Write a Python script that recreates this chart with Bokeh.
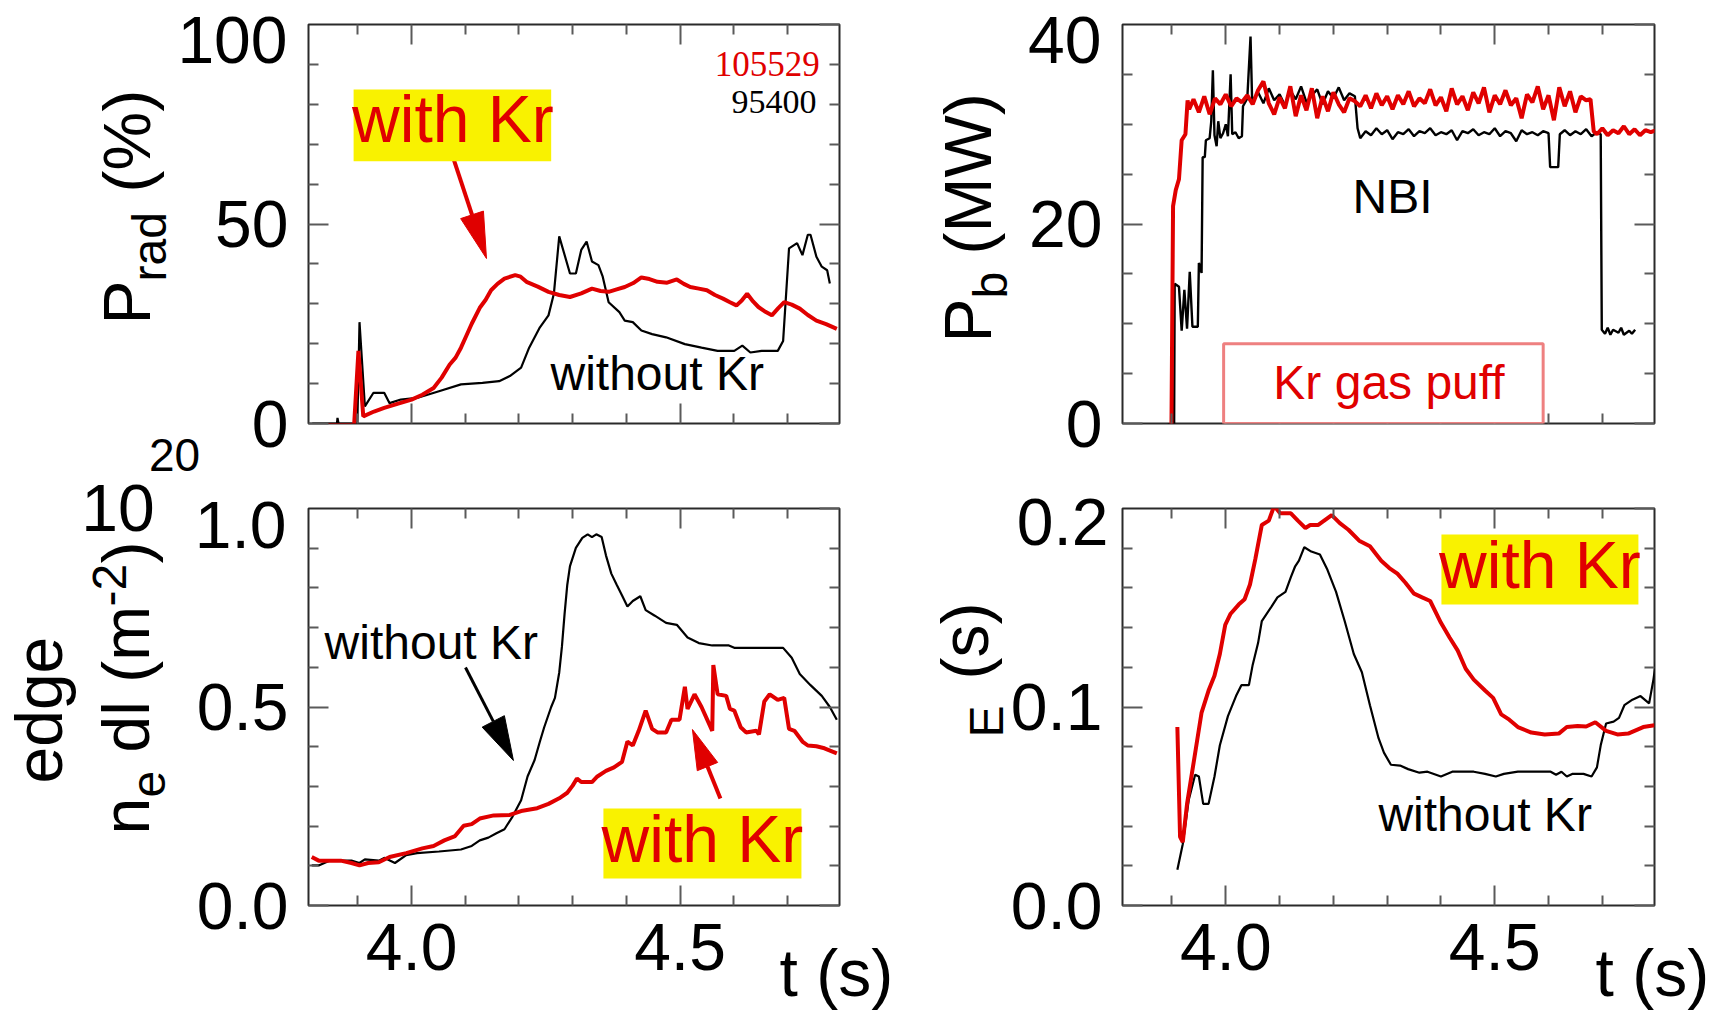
from math import hypot
from bokeh.plotting import figure
from bokeh.layouts import column
from bokeh.models import Range1d, FixedTicker, LinearAxis, Label, BoxAnnotation, GridBox
from bokeh.embed import file_html
from bokeh.resources import INLINE

# ---------------- data ----------------
T_RANGE = (3.808, 4.797)
X_MAJOR = [4.0, 4.5]
X_MINOR = [3.9, 4.1, 4.2, 4.3, 4.4, 4.6, 4.7]
X_LABELS = ["4.0", "4.5"]

PRAD_RANGE = (0, 100)
PRAD_MAJOR = [0, 50, 100]
PRAD_MINOR = [10, 20, 30, 40, 60, 70, 80, 90]
PRAD_LABELS = ["0", "50", "100"]

PB_RANGE = (0, 40)
PB_MAJOR = [0, 20, 40]
PB_MINOR = [5, 10, 15, 25, 30, 35]
PB_LABELS = ["0", "20", "40"]

NE_RANGE = (0, 1.0)
NE_MAJOR = [0.0, 0.5, 1.0]
NE_MINOR = [0.1, 0.2, 0.3, 0.4, 0.6, 0.7, 0.8, 0.9]
NE_LABELS = ["0.0", "0.5", "1.0"]

TAU_RANGE = (0, 0.2)
TAU_MAJOR = [0.0, 0.1, 0.2]
TAU_MINOR = [0.02, 0.04, 0.06, 0.08, 0.12, 0.14, 0.16, 0.18]
TAU_LABELS = ["0.0", "0.1", "0.2"]

# P_rad (%) -- shot 105529 (with Kr, red)
PRAD_KR_T = [3.815, 3.893, 3.901, 3.910, 3.930, 3.949, 3.975, 4.000, 4.020, 4.041, 4.056, 4.071,
             4.082, 4.092, 4.102, 4.112, 4.127, 4.138, 4.148, 4.160, 4.173, 4.193, 4.203, 4.214,
             4.235, 4.255, 4.275, 4.295, 4.316, 4.336, 4.352, 4.367, 4.382, 4.397, 4.413, 4.428,
             4.443, 4.458, 4.476, 4.494, 4.507, 4.519, 4.535, 4.550, 4.565, 4.580, 4.593, 4.605,
             4.615, 4.625, 4.636, 4.646, 4.659, 4.671, 4.683, 4.694, 4.708, 4.723, 4.738, 4.754,
             4.772, 4.792]
PRAD_KR_V = [-0.4, -0.4, 18.2, 1.8, 3.0, 3.9, 5.0, 6.0, 7.2, 8.9, 11.5, 14.8,
             16.5, 19.0, 22.0, 25.0, 29.0, 31.0, 33.4, 35.0, 36.3, 37.2, 36.8, 35.5,
             34.3, 33.0, 32.2, 31.7, 32.6, 33.8, 33.2, 33.0, 33.6, 34.2, 35.2, 36.6,
             36.2, 35.5, 35.3, 36.1, 35.0, 34.2, 33.8, 33.4, 32.2, 31.3, 30.4, 29.6,
             30.8, 32.5, 30.6, 29.2, 28.0, 27.1, 28.9, 30.4, 29.8, 28.8, 27.2, 25.8,
             24.9, 23.7]
# P_rad (%) -- shot 95400 (without Kr, black)
PRAD_NO_T = [3.815, 3.861, 3.862, 3.864, 3.899, 3.903, 3.913, 3.929, 3.949, 3.959, 3.980, 4.010,
             4.051, 4.092, 4.132, 4.163, 4.183, 4.204, 4.219, 4.239, 4.255, 4.265, 4.275, 4.295,
             4.306, 4.316, 4.326, 4.336, 4.348, 4.356, 4.367, 4.387, 4.397, 4.412, 4.428, 4.448,
             4.474, 4.509, 4.540, 4.570, 4.601, 4.616, 4.631, 4.652, 4.682, 4.692, 4.703, 4.718,
             4.728, 4.738, 4.743, 4.754, 4.764, 4.774, 4.779]
PRAD_NO_V = [0.0, 0.0, 1.4, 0.0, 0.0, 25.4, 4.3, 7.7, 7.7, 5.1, 6.0, 6.4,
             8.1, 9.8, 10.2, 10.6, 11.9, 14.0, 19.0, 24.1, 27.1, 32.5, 46.9, 37.6,
             37.6, 43.5, 45.6, 40.6, 39.7, 36.8, 30.4, 27.9, 25.8, 25.4, 23.3, 22.4,
             21.6, 19.9, 19.0, 18.2, 18.2, 19.5, 17.8, 18.2, 18.2, 20.7, 43.9, 45.2,
             42.2, 47.3, 47.3, 41.8, 39.3, 38.4, 35.1]

# P_b (MW) -- with Kr (red)
PB_KR_T = [3.887, 3.899, 3.902, 3.907, 3.913, 3.918, 3.925, 3.929, 3.932,
           3.94, 3.95, 3.96, 3.97, 3.98, 3.99, 4.00, 4.01, 4.02, 4.03, 4.04, 4.05, 4.06, 4.07,
           4.08, 4.09, 4.10, 4.11, 4.12, 4.13, 4.14, 4.15, 4.16, 4.17, 4.18, 4.19, 4.20, 4.21,
           4.22, 4.23, 4.24, 4.25, 4.26, 4.27, 4.28, 4.29, 4.30, 4.31, 4.32, 4.33, 4.34, 4.35,
           4.36, 4.37, 4.38, 4.39, 4.40, 4.41, 4.42, 4.43, 4.44, 4.45, 4.46, 4.47, 4.48, 4.49,
           4.50, 4.51, 4.52, 4.53, 4.54, 4.55, 4.56, 4.57, 4.58, 4.59, 4.60, 4.61, 4.62, 4.63,
           4.64, 4.65, 4.66, 4.67, 4.678, 4.684,
           4.69, 4.70, 4.71, 4.72, 4.73, 4.74, 4.75, 4.76, 4.77, 4.78, 4.79, 4.80]
PB_KR_V = [-0.3, -0.3, 21.8, 23.4, 24.5, 28.4, 29.0, 32.4, 31.5,
           32.5, 31.2, 32.8, 31.0, 32.6, 32.0, 33.0, 31.8, 32.6, 32.2, 32.9, 32.0, 33.4, 34.3,
           32.1, 31.0, 32.7, 31.6, 33.8, 30.8, 32.9, 31.4, 33.6, 30.6, 32.8, 31.3, 33.2, 32.0,
           31.2, 32.6, 32.3, 31.8, 32.9, 31.6, 33.1, 31.9, 32.8, 31.5, 32.9, 32.0, 33.3, 31.8,
           32.6, 32.1, 33.5, 31.9, 32.7, 31.3, 33.6, 32.0, 32.8, 31.4, 33.2, 32.1, 33.7, 31.2,
           32.9, 32.0, 33.4, 31.9, 32.6, 30.6, 33.0, 32.2, 33.8, 31.5, 32.9, 30.4, 33.7, 31.8,
           33.3, 31.2, 32.8, 32.4, 32.5, 29.3,
           29.0, 29.6, 28.9, 29.4, 29.1, 29.8, 29.0, 29.5, 28.9, 29.4, 29.2, 29.4]
# P_b (MW) -- without Kr (black)
PB_NO_T = [3.892, 3.904, 3.905, 3.913, 3.918, 3.923, 3.928, 3.933, 3.938, 3.948, 3.950, 3.955,
           3.957, 3.961, 3.963, 3.970, 3.973, 3.976, 3.979, 3.983, 3.986, 3.990, 3.995, 4.000,
           4.004, 4.009, 4.012, 4.018, 4.024, 4.030, 4.032, 4.040, 4.046, 4.049, 4.055,
           4.06, 4.07, 4.08, 4.09, 4.10, 4.11, 4.12, 4.13, 4.14, 4.15, 4.16, 4.17, 4.18, 4.19,
           4.20, 4.21, 4.22, 4.23, 4.24, 4.245,
           4.25, 4.26, 4.27, 4.28, 4.29, 4.30, 4.31, 4.32, 4.33, 4.34, 4.35, 4.36, 4.37, 4.38,
           4.39, 4.40, 4.41, 4.42, 4.43, 4.44, 4.45, 4.46, 4.47, 4.48, 4.49, 4.50, 4.51, 4.52,
           4.53, 4.54, 4.55, 4.56, 4.57, 4.58, 4.59, 4.60, 4.603, 4.618, 4.621,
           4.63, 4.64, 4.65, 4.66, 4.67, 4.68, 4.69, 4.697, 4.699, 4.705, 4.71, 4.715, 4.72,
           4.73, 4.735, 4.74, 4.75, 4.755, 4.761]
PB_NO_V = [-0.1, -0.1, 14.0, 13.7, 9.3, 13.4, 9.5, 15.2, 9.7, 9.7, 16.1, 15.1,
           26.7, 26.7, 28.4, 28.6, 30.3, 35.4, 28.9, 27.8, 30.3, 28.6, 29.1, 30.0,
           28.8, 35.0, 29.0, 29.2, 28.6, 28.8, 31.8, 32.6, 38.8, 32.3, 32.8,
           33.2, 32.1, 33.6, 32.4, 33.0, 31.9, 33.4, 32.5, 33.8, 32.2, 32.9, 33.5, 32.0, 33.3,
           32.6, 33.7, 32.4, 33.1, 32.8, 29.6,
           28.6, 29.3, 28.9, 29.6, 29.0, 29.4, 28.5, 29.2, 29.0, 29.5, 28.8, 29.3, 29.1, 29.6,
           28.9, 29.2, 29.0, 29.4, 28.4, 29.3, 29.1, 29.5, 28.9, 29.2, 29.0, 29.6, 28.8, 29.3,
           29.1, 28.3, 29.4, 29.0, 29.2, 28.9, 29.3, 29.1, 25.7, 25.7, 29.0,
           29.4, 28.9, 29.3, 29.0, 29.5, 28.8, 29.2, 29.0, 9.4, 9.0, 9.6, 8.9, 9.4,
           9.1, 9.6, 8.9, 9.3, 9.0, 9.4]

# edge n_e dl (1e20 m^-2) -- without Kr (black)
NE_NO_T = [3.814, 3.827, 3.847, 3.888, 3.903, 3.913, 3.939, 3.949, 3.969, 3.990, 4.010, 4.051,
           4.092, 4.112, 4.127, 4.143, 4.158, 4.173, 4.188, 4.204, 4.216, 4.229, 4.239, 4.247,
           4.260, 4.267, 4.275, 4.280, 4.285, 4.290, 4.295, 4.306, 4.318, 4.328, 4.336, 4.344,
           4.354, 4.362, 4.372, 4.382, 4.392, 4.402, 4.412, 4.426, 4.436, 4.453, 4.474, 4.494,
           4.514, 4.535, 4.560, 4.591, 4.601, 4.692, 4.708, 4.723, 4.743, 4.764, 4.779, 4.792]
NE_NO_V = [0.101, 0.101, 0.113, 0.113, 0.107, 0.116, 0.113, 0.120, 0.107, 0.127, 0.132, 0.136,
           0.141, 0.150, 0.164, 0.171, 0.182, 0.192, 0.224, 0.265, 0.325, 0.366, 0.413, 0.449,
           0.500, 0.523, 0.587, 0.652, 0.735, 0.808, 0.855, 0.901, 0.926, 0.935, 0.928, 0.935,
           0.928, 0.882, 0.836, 0.808, 0.781, 0.753, 0.767, 0.779, 0.744, 0.730, 0.712, 0.707,
           0.675, 0.661, 0.655, 0.655, 0.649, 0.649, 0.624, 0.583, 0.555, 0.528, 0.500, 0.468]
# edge n_e dl -- with Kr (red)
NE_KR_T = [3.814, 3.827, 3.868, 3.888, 3.903, 3.919, 3.939, 3.959, 3.990, 4.020, 4.041, 4.061,
           4.081, 4.097, 4.112, 4.127, 4.153, 4.183, 4.204, 4.234, 4.255, 4.275, 4.290, 4.300,
           4.308, 4.316, 4.336, 4.346, 4.362, 4.377, 4.392, 4.402, 4.412, 4.423, 4.436, 4.448,
           4.458, 4.474, 4.484, 4.499, 4.509, 4.514, 4.527, 4.540, 4.560, 4.562, 4.570, 4.586,
           4.593, 4.601, 4.613, 4.623, 4.642, 4.647, 4.657, 4.667, 4.682, 4.694, 4.703, 4.713,
           4.728, 4.738, 4.754, 4.769, 4.792]
NE_KR_V = [0.122, 0.113, 0.113, 0.107, 0.101, 0.107, 0.109, 0.122, 0.132, 0.144, 0.150, 0.164,
           0.175, 0.201, 0.205, 0.219, 0.227, 0.228, 0.238, 0.245, 0.256, 0.270, 0.284, 0.302,
           0.320, 0.311, 0.311, 0.325, 0.339, 0.348, 0.362, 0.413, 0.403, 0.440, 0.491, 0.445,
           0.436, 0.436, 0.468, 0.468, 0.551, 0.495, 0.532, 0.500, 0.440, 0.606, 0.532, 0.528,
           0.495, 0.491, 0.449, 0.436, 0.440, 0.431, 0.514, 0.532, 0.518, 0.523, 0.445, 0.440,
           0.413, 0.403, 0.401, 0.396, 0.383]

# tau_E (s) -- with Kr (red)
TAU_KR_T = [3.910, 3.915, 3.920, 3.928, 3.941, 3.955, 3.968, 3.979, 3.989, 3.999, 4.009, 4.024,
            4.035, 4.045, 4.055, 4.067, 4.080, 4.090, 4.101, 4.121, 4.134, 4.148, 4.157, 4.172,
            4.197, 4.212, 4.228, 4.248, 4.268, 4.289, 4.304, 4.319, 4.334, 4.350, 4.365, 4.380,
            4.400, 4.416, 4.431, 4.446, 4.461, 4.482, 4.497, 4.512, 4.527, 4.543, 4.568, 4.593,
            4.619, 4.634, 4.654, 4.670, 4.687, 4.707, 4.728, 4.748, 4.776, 4.797]
TAU_KR_V = [0.0899, 0.0346, 0.0319, 0.0512, 0.0733, 0.0972, 0.1083, 0.1157, 0.1267, 0.1414,
            0.1470, 0.1516, 0.1543, 0.1617, 0.1746, 0.1917, 0.1939, 0.2013, 0.1976, 0.1976,
            0.1939, 0.1902, 0.1917, 0.1917, 0.1967, 0.1926, 0.1893, 0.1838, 0.1810, 0.1737,
            0.1700, 0.1672, 0.1626, 0.1571, 0.1552, 0.1534, 0.1424, 0.1350, 0.1285, 0.1193,
            0.1138, 0.1083, 0.1046, 0.0963, 0.0936, 0.0899, 0.0871, 0.0862, 0.0866, 0.0899,
            0.0904, 0.0902, 0.0923, 0.0880, 0.0862, 0.0866, 0.0899, 0.0908]
# tau_E (s) -- without Kr (black)
TAU_NO_T = [3.910, 3.920, 3.931, 3.943, 3.950, 3.958, 3.968, 3.979, 3.989, 4.004, 4.019, 4.029,
            4.043, 4.050, 4.060, 4.067, 4.085, 4.096, 4.111, 4.121, 4.129, 4.136, 4.146, 4.159,
            4.175, 4.189, 4.205, 4.221, 4.238, 4.253, 4.268, 4.284, 4.294, 4.307, 4.324, 4.339,
            4.360, 4.375, 4.400, 4.421, 4.461, 4.482, 4.502, 4.517, 4.543, 4.588, 4.604, 4.614,
            4.624, 4.634, 4.644, 4.665, 4.680, 4.690, 4.697, 4.707, 4.721, 4.731, 4.741, 4.756,
            4.771, 4.787, 4.795, 4.802]
TAU_NO_V = [0.0180, 0.0309, 0.0530, 0.0659, 0.0650, 0.0512, 0.0512, 0.0650, 0.0807, 0.0954,
            0.1055, 0.1110, 0.1110, 0.1212, 0.1322, 0.1433, 0.1506, 0.1552, 0.1580, 0.1654,
            0.1709, 0.1737, 0.1805, 0.1783, 0.1768, 0.1691, 0.1580, 0.1433, 0.1267, 0.1175,
            0.1009, 0.0843, 0.0770, 0.0709, 0.0705, 0.0687, 0.0669, 0.0674, 0.0650, 0.0674,
            0.0674, 0.0663, 0.0650, 0.0663, 0.0674, 0.0674, 0.0674, 0.0659, 0.0674, 0.0650,
            0.0663, 0.0663, 0.0650, 0.0696, 0.0807, 0.0917, 0.0926, 0.0945, 0.1009, 0.1037,
            0.1055, 0.1018, 0.1138, 0.1267]

# ---------------- style ----------------
SANS = "Liberation Sans"
SERIF = "Liberation Serif"
RED = "#e00000"
BLACK = "#000000"
YELLOW = "#f9f200"
TICK = "#5a5a5a"
BIG = 66
MID = 48
SUB = 48
BASE_SHIFT = 0.345   # empirical: Bokeh draws "alphabetic" text this fraction of an em low

PAGE_W, PAGE_H = 1713, 1010
LEFT_W, RIGHT_W = 856, 857
TOP_H, BOT_H = 472, 538


class Geo:
    def __init__(self, fl, ft, fw, fh, yr):
        self.fl, self.ft, self.fw, self.fh, self.yr = fl, ft, fw, fh, yr
        self.fb = ft + fh
        self.sx = fw / (T_RANGE[1] - T_RANGE[0])
        self.sy = fh / (yr[1] - yr[0])


def style_axis(ax, major, minor, labels, standoff):
    ax.ticker = FixedTicker(ticks=major, minor_ticks=minor)
    ax.axis_line_color = None
    ax.major_tick_in = 20
    ax.major_tick_out = 0
    ax.minor_tick_in = 10
    ax.minor_tick_out = 0
    ax.major_tick_line_color = TICK
    ax.major_tick_line_width = 2
    ax.minor_tick_line_color = TICK
    ax.minor_tick_line_width = 2
    ax.axis_label_standoff = 0
    if labels:
        ax.major_label_overrides = dict(zip(major, labels))
        ax.major_label_text_font = SANS
        ax.major_label_text_font_size = f"{BIG}px"
        ax.major_label_text_color = "black"
        ax.major_label_standoff = standoff
    else:
        ax.major_label_text_font_size = "0px"
        ax.major_label_text_color = None
        ax.major_label_standoff = 0


def make_panel(w, h, x0, y0, g, y_major, y_minor, y_labels, x_labels):
    bl = g.fl - x0
    bt = g.ft - y0
    p = figure(width=w, height=h, x_range=Range1d(*T_RANGE), y_range=Range1d(*g.yr),
               x_axis_type=None, y_axis_type=None, output_backend="svg",
               toolbar_location=None, min_border_left=bl, min_border_right=w - bl - g.fw,
               min_border_top=bt, min_border_bottom=h - bt - g.fh)
    p.outline_line_color = "#2a2a2a"
    p.outline_line_width = 2
    p.background_fill_color = "white"
    p.border_fill_color = "white"
    # left axis: all labels but the top one (the top label sits lower, as in the figure)
    ax = LinearAxis()
    style_axis(ax, y_major[:-1], y_minor, y_labels[:-1], 20)
    p.add_layout(ax, "left")
    ax = LinearAxis()
    style_axis(ax, y_major, y_minor, None, 0)
    p.add_layout(ax, "right")
    ax = LinearAxis()
    style_axis(ax, X_MAJOR, X_MINOR, x_labels, 18)
    p.add_layout(ax, "below")
    ax = LinearAxis()
    style_axis(ax, X_MAJOR, X_MINOR, None, 0)
    p.add_layout(ax, "above")
    return p


def dtext(p, g, x, y, text, size, color=BLACK, font=SANS, align="left"):
    """Text inside a panel, baseline given in data units."""
    y = y + BASE_SHIFT * size / g.sy
    p.add_layout(Label(x=x, y=y, text=text, text_font=font, text_font_size=f"{size}px",
                       text_color=color, text_align=align, text_baseline="alphabetic"))


def box(p, l, r, b, t, fill, edge=None, edge_w=0):
    p.add_layout(BoxAnnotation(left=l, right=r, bottom=b, top=t, fill_color=fill, fill_alpha=1.0,
                               line_color=edge, line_width=edge_w, line_alpha=1.0))


def arrow(p, g, x0, y0, x1, y1, color, lw, head_len, head_w):
    dx, dy = (x1 - x0) * g.sx, (y1 - y0) * g.sy
    L = hypot(dx, dy)
    ux, uy = dx / L, dy / L
    bx, by = x1 - ux * head_len / g.sx, y1 - uy * head_len / g.sy
    px, py = -uy, ux
    hw = head_w / 2
    p.line([x0, bx], [y0, by], line_color=color, line_width=lw)
    p.patch([x1, bx + px * hw / g.sx, bx - px * hw / g.sx],
            [y1, by + py * hw / g.sy, by - py * hw / g.sy],
            fill_color=color, line_color=color, line_width=1)


G1 = Geo(308, 24, 531, 399, PRAD_RANGE)
G2 = Geo(1122, 24, 532, 399, PB_RANGE)
G3 = Geo(308, 508, 531, 397, NE_RANGE)
G4 = Geo(1122, 508, 532, 397, TAU_RANGE)

# transparent page-size overlay that carries the texts lying outside the plot frames
ov = figure(width=PAGE_W, height=PAGE_H, x_range=Range1d(0, PAGE_W), y_range=Range1d(PAGE_H, 0),
            x_axis_type=None, y_axis_type=None, output_backend="svg", toolbar_location=None,
            min_border=0)
ov.background_fill_color = None
ov.border_fill_color = None
ov.outline_line_color = None


def otext(px, py, text, size, color=BLACK, font=SANS, align="left", rotated=False):
    """Text on the overlay, baseline/start given in page pixels."""
    shift = BASE_SHIFT * size
    if rotated:
        px -= shift
    else:
        py -= shift
    ov.add_layout(Label(x=px, y=py, text=text, text_font=font, text_font_size=f"{size}px",
                        text_color=color, text_align=align, text_baseline="alphabetic",
                        angle=90 if rotated else 0, angle_units="deg"))


# ---------------- panel 1: P_rad ----------------
p1 = make_panel(LEFT_W, TOP_H, 0, 0, G1, PRAD_MAJOR, PRAD_MINOR, PRAD_LABELS, None)
p1.line(PRAD_NO_T, PRAD_NO_V, line_color=BLACK, line_width=2.2)
p1.line(PRAD_KR_T, PRAD_KR_V, line_color=RED, line_width=4)
dtext(p1, G1, 4.760, 87.0, "105529", 35, color=RED, font=SERIF, align="right")
dtext(p1, G1, 4.754, 77.7, "95400", 34, color=BLACK, font=SERIF, align="right")
box(p1, 3.892, 4.260, 65.7, 83.7, YELLOW)
dtext(p1, G1, 4.077, 70.5, "with Kr", BIG, color=RED, align="center")
arrow(p1, G1, 4.076, 67.2, 4.1395, 41.35, RED, 4, 46, 24)
dtext(p1, G1, 4.2587, 8.3, "without Kr", MID)
otext(287, 62, PRAD_LABELS[-1], BIG, align="right")
otext(149, 324, "P", BIG, rotated=True)
otext(166, 281, "rad", SUB, rotated=True)
otext(149, 192, "(%)", BIG, rotated=True)

# ---------------- panel 2: P_b ----------------
p2 = make_panel(RIGHT_W, TOP_H, LEFT_W, 0, G2, PB_MAJOR, PB_MINOR, PB_LABELS, None)
p2.line(PB_NO_T, PB_NO_V, line_color=BLACK, line_width=2.4)
p2.line(PB_KR_T, PB_KR_V, line_color=RED, line_width=4)
dtext(p2, G2, 4.310, 21.05, "NBI", MID, align="center")
box(p2, 3.996, 4.590, 0.0, 8.0, "white", edge="#ee8080", edge_w=3)
dtext(p2, G2, 4.3034, 2.5, "Kr gas puff", MID, color=RED, align="center")
otext(1101, 62, PB_LABELS[-1], BIG, align="right")
otext(990, 342, "P", BIG, rotated=True)
otext(1007, 298, "b", SUB, rotated=True)
otext(990, 254, "(MW)", BIG, rotated=True)

# ---------------- panel 3: edge n_e dl ----------------
p3 = make_panel(LEFT_W, BOT_H, 0, TOP_H, G3, NE_MAJOR, NE_MINOR, NE_LABELS, X_LABELS)
p3.line(NE_NO_T, NE_NO_V, line_color=BLACK, line_width=2.2)
p3.line(NE_KR_T, NE_KR_V, line_color=RED, line_width=4)
dtext(p3, G3, 3.838, 0.622, "without Kr", MID)
arrow(p3, G3, 4.1004, 0.5995, 4.1897, 0.3652, BLACK, 3, 44, 25)
box(p3, 4.3573, 4.7261, 0.0680, 0.2443, YELLOW)
dtext(p3, G3, 4.5417, 0.1108, "with Kr", BIG, color=RED, align="center")
arrow(p3, G3, 4.5752, 0.2695, 4.5231, 0.4433, RED, 4, 40, 22)
otext(286, 547, NE_LABELS[-1], BIG, align="right")
otext(61, 783, "edge", BIG, rotated=True)
otext(148, 834, "n", BIG, rotated=True)
otext(165, 797, "e", SUB, rotated=True)
otext(148, 752, "dl (m", BIG, rotated=True)
otext(126, 606, "-2", SUB, rotated=True)
otext(148, 563, ")", BIG, rotated=True)
otext(117.5, 530, "10", BIG, align="center")
otext(174, 470, "20", 46, align="center")
otext(779, 995, "t (s)", BIG)

# ---------------- panel 4: tau_E ----------------
p4 = make_panel(RIGHT_W, BOT_H, LEFT_W, TOP_H, G4, TAU_MAJOR, TAU_MINOR, TAU_LABELS, X_LABELS)
p4.line(TAU_NO_T, TAU_NO_V, line_color=BLACK, line_width=2.2)
p4.line(TAU_KR_T, TAU_KR_V, line_color=RED, line_width=4)
box(p4, 4.4009, 4.7671, 0.1516, 0.1869, YELLOW)
dtext(p4, G4, 4.584, 0.1602, "with Kr", BIG, color=RED, align="center")
dtext(p4, G4, 4.2838, 0.0373, "without Kr", MID)
otext(1108, 544, TAU_LABELS[-1], BIG, align="right")
otext(1003, 737, "E", SUB, rotated=True)
otext(987, 679, "(s)", BIG, rotated=True)
otext(1595, 995, "t (s)", BIG)

panels = GridBox(children=[(p1, 0, 0), (p2, 0, 1), (p3, 1, 0), (p4, 1, 1)], spacing=0)
layout = GridBox(children=[(panels, 0, 0), (column(ov), 0, 0)], spacing=0)
open("out.html", "w").write(file_html(layout, INLINE))
